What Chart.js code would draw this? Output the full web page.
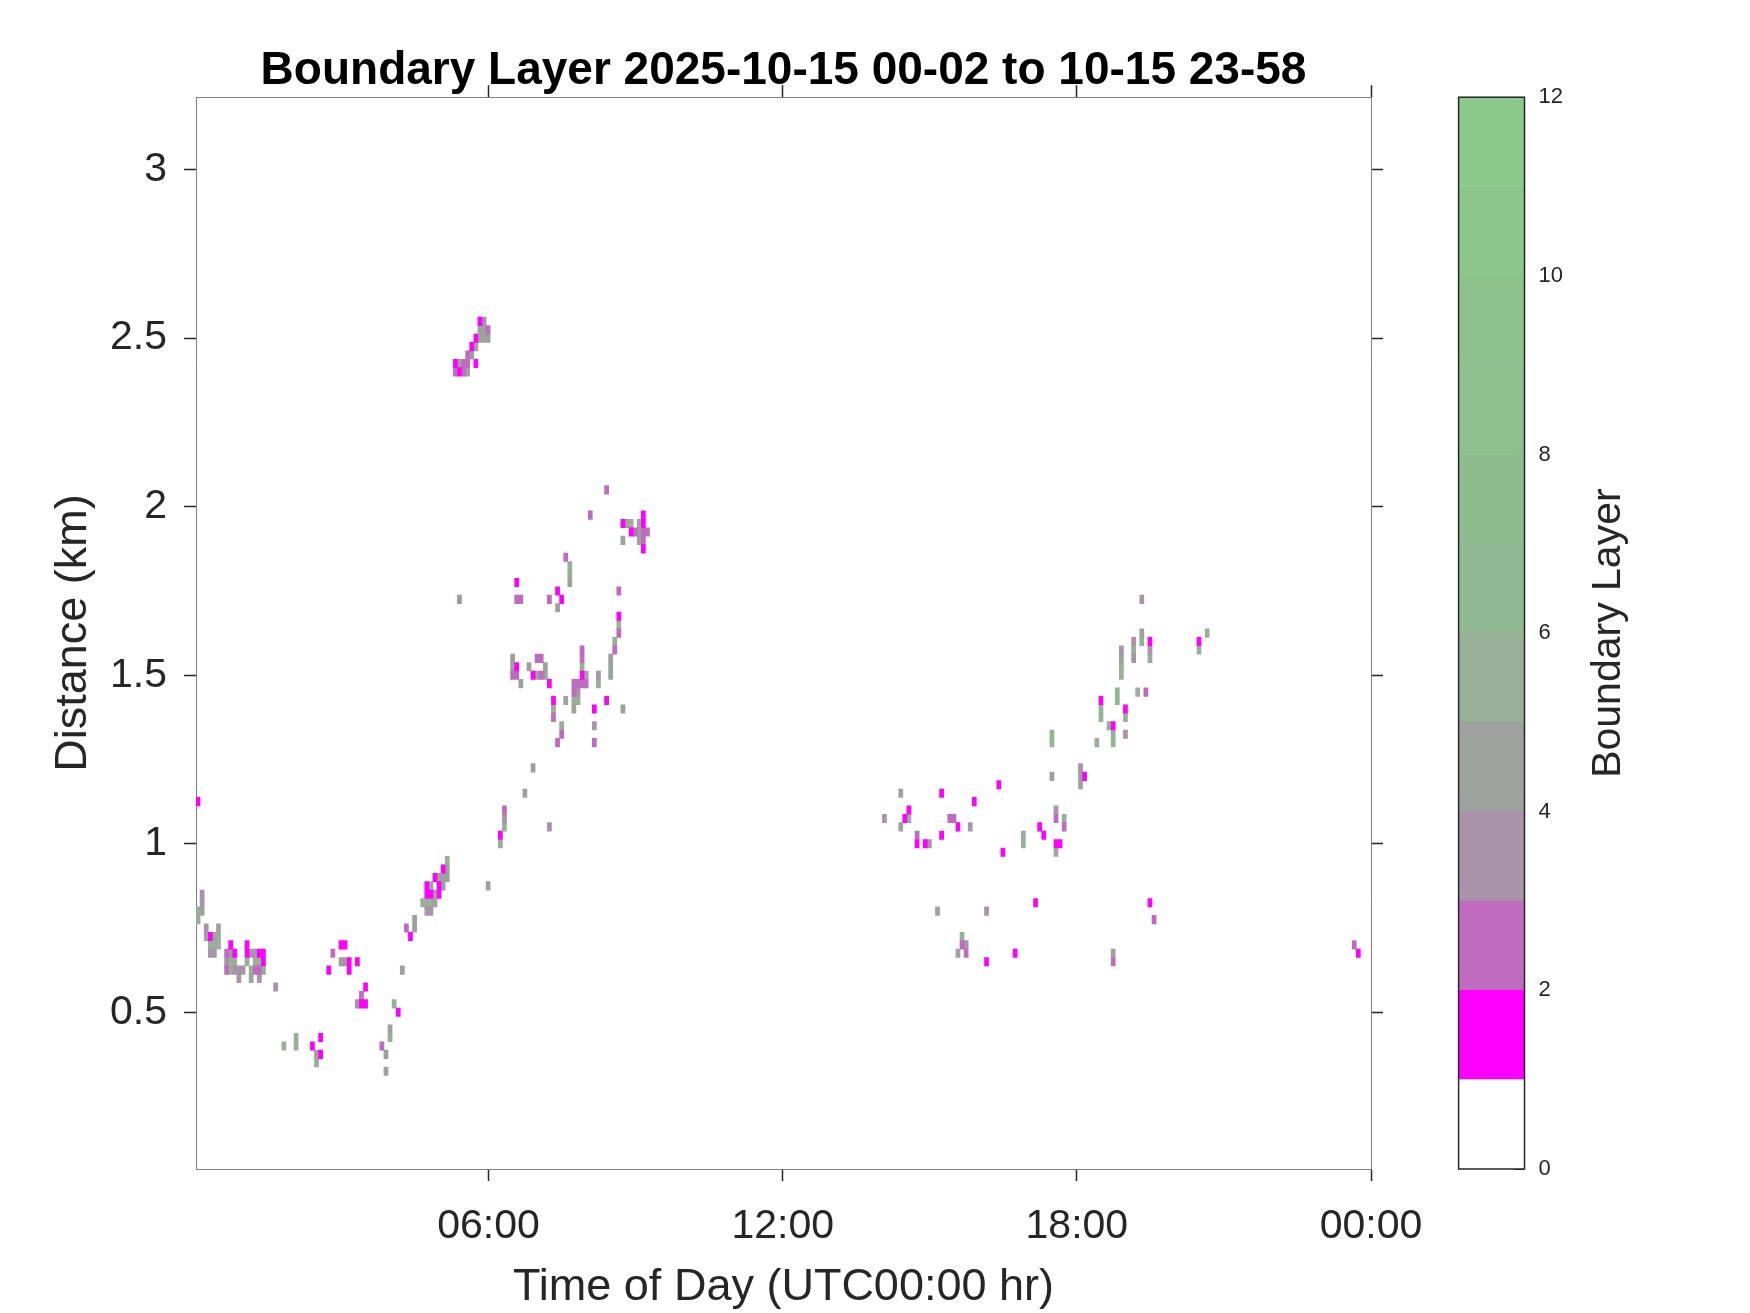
<!DOCTYPE html>
<html>
<head>
<meta charset="utf-8">
<title>Boundary Layer</title>
<script src="https://cdn.jsdelivr.net/npm/chart.js@4.4.1/dist/chart.umd.min.js"></script>
<style>
  html, body { margin: 0; padding: 0; background: #fff; }
  #wrap { position: relative; width: 1750px; height: 1313px; }
  #main { position: absolute; left: 0; top: 0; }
  #bar { position: absolute; left: 1400px; top: 0; }
</style>
</head>
<body>
<div id="wrap">
  <canvas id="main" width="1750" height="1313"></canvas>
  <canvas id="bar" width="350" height="1313"></canvas>
</div>
<script>
// cells are [start minute of the 5 min profile, gate centre in km]
var timeTicks = [360, 720, 1080, 1440];
var timeTickLabels = ['06:00', '12:00', '18:00', '00:00'];
var heightTicks = [0.5, 1, 1.5, 2, 2.5, 3];
var bandEdges = [0, 1, 2, 3, 4, 5, 6, 7, 8, 9, 10, 11, 12];
var bandTicks = [0, 2, 4, 6, 8, 10, 12];
var bandColors = ['#ffffff', '#ff00ff', '#bf6cbf', '#a993a9', '#9ea29e', '#97b097',
                  '#91b991', '#8fbc8f', '#8ebf8e', '#8dc28d', '#8cc68c', '#8bca8b'];

// level 1 (magenta)
var level1Cells = [
  [2, 1.125], [17, 0.725], [42, 0.7], [62, 0.7], [47, 0.675], [62, 0.675], [77, 0.675], [82, 0.675], [82, 0.65],
  [142, 0.4], [152, 0.425], [152, 0.375], [162, 0.625], [177, 0.7], [182, 0.7], [187, 0.65], [187, 0.625], [197, 0.65],
  [207, 0.575], [202, 0.525], [207, 0.525], [247, 0.5], [262, 0.725],
  [302, 0.925], [292, 0.9], [282, 0.875], [297, 0.875], [282, 0.85], [287, 0.85], [297, 0.85], [372, 1.025],
  [347, 2.55], [342, 2.5], [337, 2.475], [317, 2.425], [342, 2.425], [322, 2.4],
  [392, 1.525], [392, 1.775], [412, 1.5], [432, 1.475], [442, 1.75], [447, 1.725], [437, 1.425], [472, 1.5],
  [487, 1.4], [502, 1.425], [517, 1.675],
  [522, 1.95], [532, 1.925], [547, 1.975], [547, 1.95], [547, 1.875],
  [1167, 1.6], [1227, 1.6], [1107, 1.425], [1137, 1.4], [1122, 1.35], [1087, 1.2], [1032, 1.05], [1037, 1.025],
  [1052, 1.0], [1057, 1.0], [987, 0.975], [982, 1.175], [952, 1.125], [932, 1.05], [912, 1.15], [912, 1.025],
  [882, 1.0], [892, 1.0], [872, 1.1], [867, 1.075], [1027, 0.825], [1167, 0.825], [967, 0.65], [1002, 0.675],
  [1422, 0.675]
];
// level 2 (purple)
var level2Cells = [
  [37, 0.675], [37, 0.625], [72, 0.625], [77, 0.625], [167, 0.675], [202, 0.55], [227, 0.4], [257, 0.75], [377, 1.1],
  [357, 2.525], [332, 2.45], [327, 2.425], [332, 2.425], [317, 2.4], [327, 2.4],
  [387, 1.5], [392, 1.5], [392, 1.725], [397, 1.725], [417, 1.55], [422, 1.55], [422, 1.5], [432, 1.725],
  [437, 1.375], [447, 1.325], [442, 1.3], [452, 1.85], [462, 1.475], [462, 1.45], [467, 1.475], [472, 1.575],
  [472, 1.55], [472, 1.475], [477, 1.475], [482, 1.975], [487, 1.3], [502, 2.05], [512, 1.575], [517, 1.75], [517, 1.625],
  [537, 1.925], [547, 1.925], [547, 1.9], [552, 1.925],
  [1162, 1.45], [1052, 1.075], [1062, 1.05], [922, 1.075], [927, 1.075], [882, 1.025], [1172, 0.775],
  [937, 0.7], [942, 0.675], [1122, 0.65], [1417, 0.7]
];
// level 3 (mauve)
var level3Cells = [
  [7, 0.85], [7, 0.825], [12, 0.75], [17, 0.675], [42, 0.675], [67, 0.675], [72, 0.675], [37, 0.65], [47, 0.625],
  [52, 0.625], [57, 0.625], [52, 0.6], [77, 0.6], [97, 0.575], [182, 0.65], [197, 0.525], [282, 0.8], [287, 0.8],
  [377, 1.075], [432, 1.05], [352, 2.55],
  [322, 1.725], [467, 1.45], [487, 1.35], [492, 1.5],
  [1157, 1.725], [1147, 1.6], [1147, 1.55], [1167, 1.575], [1132, 1.575], [1137, 1.325], [1082, 1.225],
  [1052, 1.1], [947, 1.05], [897, 1.0], [842, 1.075], [967, 0.8], [942, 0.7]
];
// level 4 (grey)
var level4Cells = [
  [7, 0.8], [27, 0.75], [12, 0.725], [22, 0.725], [22, 0.675], [67, 0.6],
  [147, 0.375], [177, 0.65], [232, 0.375], [232, 0.325], [237, 0.45], [252, 0.625], [267, 0.775], [267, 0.75],
  [307, 0.925], [297, 0.9], [302, 0.9], [307, 0.9], [287, 0.875], [302, 0.875], [292, 0.85], [292, 0.825],
  [357, 0.875], [402, 1.15], [412, 1.225],
  [347, 2.525], [352, 2.525], [347, 2.5], [352, 2.5], [357, 2.5], [342, 2.475], [337, 2.45], [322, 2.425], [332, 2.4],
  [387, 1.55], [387, 1.525], [397, 1.475], [407, 1.525], [417, 1.5], [427, 1.525], [427, 1.5], [442, 1.7],
  [452, 1.425], [457, 1.775], [462, 1.4], [477, 1.5], [507, 1.55], [507, 1.525], [507, 1.5], [522, 1.4],
  [522, 1.9], [527, 1.95], [542, 1.95], [542, 1.925], [542, 1.9],
  [1157, 1.625], [1132, 1.55], [1047, 1.2], [1082, 1.2], [1082, 1.175], [862, 1.05], [862, 1.15], [907, 0.8],
  [932, 0.675], [1122, 0.675]
];
// level 5 (grey green)
var level5Cells = [
  [2, 0.8], [2, 0.775], [27, 0.725], [17, 0.7], [22, 0.7], [27, 0.7], [42, 0.65], [47, 0.65], [62, 0.65], [72, 0.65],
  [77, 0.65], [42, 0.625], [67, 0.625], [82, 0.625],
  [107, 0.4], [122, 0.425], [122, 0.4], [147, 0.35], [237, 0.425], [242, 0.525],
  [307, 0.95], [277, 0.825], [282, 0.825], [287, 0.825], [372, 1.0], [377, 1.05],
  [437, 1.4], [447, 1.35], [457, 1.825], [457, 1.8], [462, 1.425], [467, 1.425], [472, 1.525], [492, 1.475],
  [512, 1.6], [517, 1.65], [532, 1.95],
  [1157, 1.6], [1147, 1.575], [1167, 1.55], [1132, 1.525], [1132, 1.5], [1227, 1.575], [1237, 1.625], [1152, 1.45],
  [1107, 1.4], [1137, 1.375], [1117, 1.35], [1122, 1.325], [1102, 1.3], [1062, 1.075], [1012, 1.025], [1012, 1.0],
  [1052, 0.975], [872, 1.075], [937, 0.725]
];
// level 6 (green)
var level6Cells = [
  [1127, 1.45], [1127, 1.425], [1107, 1.375], [1122, 1.3], [1047, 1.325], [1047, 1.3]
];

var cellsByLevel = [[], level1Cells, level2Cells, level3Cells, level4Cells, level5Cells, level6Cells];
var CELL_MINUTES = 5;
var GATE_KM = 0.025;

Chart.defaults.font.family = "'Liberation Sans', Arial, Helvetica, sans-serif";
Chart.defaults.color = '#262626';

function fixedTicks(values) {
  return function (scale) {
    scale.ticks = values.map(function (v) { return { value: v }; });
  };
}

var datasets = [];
for (var lv = 1; lv < cellsByLevel.length; lv++) {
  datasets.push({
    data: cellsByLevel[lv].map(function (p) {
      return { x: p[0] + CELL_MINUTES / 2, y: [p[1] - GATE_KM / 2, p[1] + GATE_KM / 2] };
    }),
    backgroundColor: bandColors[lv],
    borderWidth: 0,
    grouped: false,
    barPercentage: 1,
    categoryPercentage: 1
  });
}

var tickGrid = { drawOnChartArea: false, offset: false, tickLength: 12, tickColor: '#262626', tickWidth: 1.5 };
var boxBorder = { color: '#808080', width: 1 };

new Chart(document.getElementById('main'), {
  type: 'bar',
  data: { datasets: datasets },
  options: {
    responsive: false,
    animation: false,
    events: [],
    layout: { padding: { left: 0, right: 379, top: 0, bottom: 0 } },
    plugins: {
      legend: { display: false },
      tooltip: { enabled: false },
      title: {
        display: true,
        fullSize: false,
        text: 'Boundary Layer 2025-10-15 00-02 to 10-15 23-58',
        color: '#000000',
        font: { size: 46, weight: 'bold', lineHeight: 1.2 },
        padding: { top: 44, bottom: -2 }
      }
    },
    scales: {
      x: {
        type: 'linear', position: 'bottom', min: 2, max: 1440, offset: false, z: 1,
        afterBuildTicks: fixedTicks(timeTicks),
        afterFit: function (s) { s.height = 144; },
        grid: tickGrid,
        border: boxBorder,
        ticks: {
          autoSkip: false, maxRotation: 0, padding: 21, font: { size: 41 },
          callback: function (v, i) { return timeTickLabels[i]; }
        },
        title: { display: true, text: 'Time of Day (UTC00:00 hr)', font: { size: 45, lineHeight: 1.12 }, padding: { top: 0, bottom: 0 } }
      },
      x2: {
        type: 'linear', position: 'top', min: 2, max: 1440, offset: false, z: 1,
        afterBuildTicks: fixedTicks(timeTicks),
        afterFit: function (s) { s.height = 0; },
        grid: tickGrid,
        border: boxBorder,
        ticks: { display: false }
      },
      y: {
        type: 'linear', position: 'left', min: 0.035, max: 3.215, z: 1,
        afterBuildTicks: fixedTicks(heightTicks),
        afterFit: function (s) { s.width = 196; },
        grid: tickGrid,
        border: boxBorder,
        ticks: { padding: 17, font: { size: 41 }, callback: function (v) { return String(v); } },
        title: { display: true, text: 'Distance (km)', font: { size: 45, lineHeight: 1.2 }, padding: { top: 47, bottom: 0 } }
      },
      y2: {
        type: 'linear', position: 'right', min: 0.035, max: 3.215, z: 1,
        afterBuildTicks: fixedTicks(heightTicks),
        afterFit: function (s) { s.width = 0; },
        grid: tickGrid,
        border: boxBorder,
        ticks: { display: false }
      }
    }
  }
});

// colour bar: one floating bar per colour band
var colorbarFrame = {
  id: 'colorbarFrame',
  afterDraw: function (chart) {
    var a = chart.chartArea, ctx = chart.ctx;
    ctx.save();
    ctx.strokeStyle = '#262626';
    ctx.lineWidth = 1.5;
    ctx.strokeRect(a.left, a.top, a.right - a.left, a.bottom - a.top);
    ctx.translate(a.right + 84, (a.top + a.bottom) / 2);
    ctx.rotate(-Math.PI / 2);
    ctx.font = "41px 'Liberation Sans', Arial, sans-serif";
    ctx.fillStyle = '#262626';
    ctx.textAlign = 'center';
    ctx.textBaseline = 'middle';
    ctx.fillText('Boundary Layer', 0, 0);
    ctx.restore();
  }
};

var bandDatasets = bandColors.map(function (c, i) {
  return {
    data: [[bandEdges[i], bandEdges[i + 1]]],
    backgroundColor: c,
    borderWidth: 0,
    grouped: false,
    barPercentage: 1,
    categoryPercentage: 1
  };
});

new Chart(document.getElementById('bar'), {
  type: 'bar',
  data: { labels: [''], datasets: bandDatasets },
  options: {
    responsive: false,
    animation: false,
    events: [],
    layout: { padding: { left: 58.6, top: 97.2, bottom: 144, right: 0 } },
    plugins: { legend: { display: false }, tooltip: { enabled: false } },
    scales: {
      x: { display: false },
      y: {
        position: 'right', min: 0, max: 12, z: 1,
        afterBuildTicks: fixedTicks(bandTicks),
        afterFit: function (s) { s.width = 225.5; },
        grid: { drawOnChartArea: false, tickLength: -10, tickColor: '#262626', tickWidth: 1 },
        border: { display: false },
        ticks: { padding: 24, font: { size: 22 } }
      }
    }
  },
  plugins: [colorbarFrame]
});
</script>
</body>
</html>
